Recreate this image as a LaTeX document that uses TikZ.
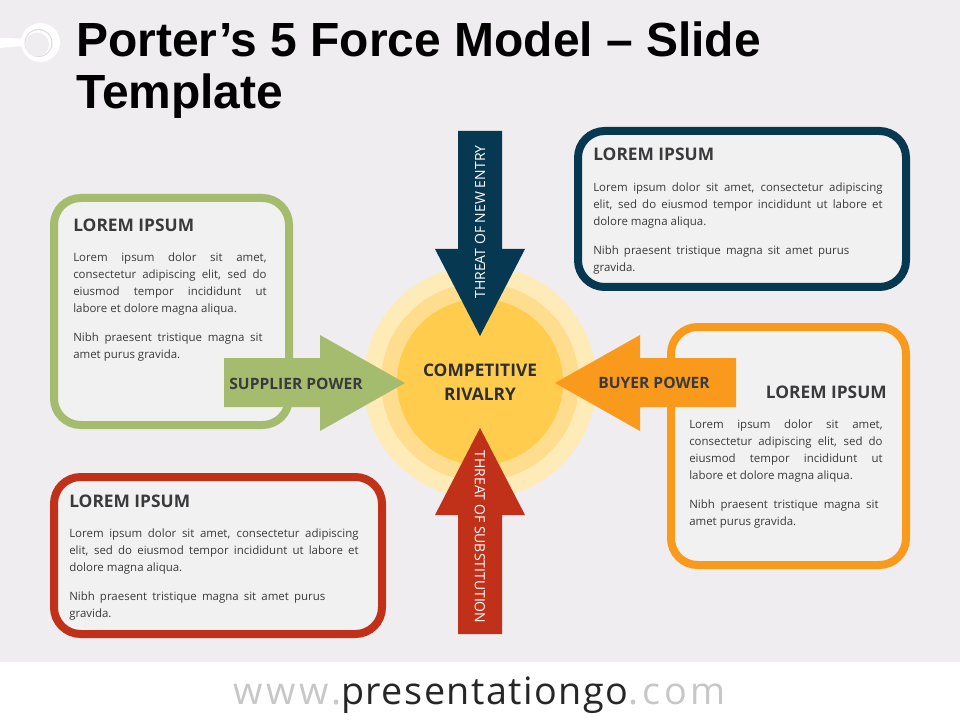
\documentclass[tikz,border=0pt]{standalone}
\usepackage{fontspec}
\setmainfont{Open Sans}
\newfontfamily\titlefont{Liberation Sans}
\newfontfamily\urlfont[LetterSpace=4]{Open Sans}
\newfontfamily\urlwide[LetterSpace=10]{Open Sans}
\usetikzlibrary{positioning}
\definecolor{navy}{HTML}{063951}
\definecolor{leaf}{HTML}{A5BC6E}
\definecolor{brick}{HTML}{C13018}
\definecolor{amber}{HTML}{F99A1C}
\definecolor{ink}{HTML}{3A3A3C}
\definecolor{paper}{HTML}{F2F1F2}
\definecolor{wash}{HTML}{EFEDEF}
\definecolor{sunout}{HTML}{FFEBB8}
\definecolor{sunmid}{HTML}{FFDD8E}
\definecolor{suncore}{HTML}{FFCC4D}
\newcommand\bodyfont{\fontsize{8.6}{12.75}\selectfont\hyphenpenalty=10000\relax}
\newcommand\widetext{Lorem ipsum dolor sit amet, consectetur adipiscing\linebreak elit, sed do eiusmod tempor incididunt ut labore et\linebreak dolore magna aliqua.\\[8.75pt] \makebox[192pt][s]{Nibh praesent tristique magna sit amet purus}\\ gravida.}
\newcommand\narrowtext{Lorem ipsum dolor sit amet,\linebreak consectetur adipiscing elit, sed do\linebreak eiusmod tempor incididunt ut\linebreak labore et dolore magna aliqua.\\[8.75pt] \makebox[142pt][s]{Nibh praesent tristique magna sit}\\ amet purus gravida.}
\tikzset{
  x=0.75pt, y=-0.75pt,
  infobox/.style={draw, line width=6pt, rounded corners=20pt, fill=paper, inner sep=0pt},
  boxhead/.style={inner sep=0pt, anchor=base west, text=ink, font=\fontsize{13}{15}\selectfont\bfseries},
  boxtext/.style={inner sep=0pt, anchor=north west, text=ink, align=justify, font=\bodyfont},
  forcelabel/.style={inner sep=0pt, font=\fontsize{10.5}{12}\selectfont},
  powerlabel/.style={inner sep=0pt, text=ink, font=\fontsize{11.7}{13}\selectfont\bfseries},
}
\begin{document}
\begin{tikzpicture}
\useasboundingbox (0,0) rectangle (960,720);
\fill[wash] (0,0) rectangle (960,662);

% pin
\fill[white] (0,38) -- (24,38.5) -- (24,46) -- (0,48) -- cycle;
\fill[white] (40.5,42.5) circle (19.5);
\fill[black!14] (38.5,43) circle (14);
\fill[white] (38.5,43) circle (13);
\fill[wash] (37,44.5) circle (12);

\node[inner sep=0pt, anchor=base west, font=\titlefont\fontsize{35.95}{39}\selectfont\bfseries] (title1) at (76,57) {Porter’s 5 Force Model – Slide};
\node[inner sep=0pt, anchor=base west, font=\titlefont\fontsize{35.95}{39}\selectfont\bfseries] (title2) at (76,109) {Template};

% circles
\fill[sunout] (480,382) circle (116.5);
\fill[sunmid] (480,382) circle (99);
\fill[suncore] (480,382) circle (83);

\node[infobox, draw=navy, minimum width=246pt, minimum height=117pt] (navybox) at (742,209) {};
\node[infobox, draw=leaf, minimum width=176.25pt, minimum height=170.25pt] (leafbox) at (171.5,311.5) {};
\node[infobox, draw=brick, minimum width=246pt, minimum height=117.75pt] (brickbox) at (218,555.5) {};
\node[infobox, draw=amber, minimum width=176.25pt, minimum height=178.5pt] (amberbox) at (788.5,446) {};

% arrows
\fill[navy] (458,131) -- (502,131) -- (502,249) -- (525,249) -- (480,336) -- (435,249) -- (458,249) -- cycle;
\fill[brick] (458,634) -- (502,634) -- (502,515) -- (525,515) -- (480,428) -- (435,515) -- (458,515) -- cycle;
\fill[leaf] (224,358) -- (320,358) -- (320,335) -- (405,383) -- (320,431) -- (320,407) -- (224,407) -- cycle;
\fill[amber] (736,358) -- (640,358) -- (640,335) -- (555,383) -- (640,431) -- (640,407) -- (736,407) -- cycle;

\node[forcelabel, text=white, rotate=90] (entry) at (480,222) {THREAT OF NEW ENTRY};
\node[forcelabel, text=white, rotate=-90] (subst) at (480,537) {THREAT OF SUBSTITUTION};
\node[powerlabel] (supplier) at (296,384) {SUPPLIER POWER};
\node[powerlabel] (buyer) at (654,383) {BUYER POWER};
\node[inner sep=0pt, align=center, text=ink!80!black, font=\fontsize{13}{18}\selectfont\bfseries] (rivalry) at (480,382) {COMPETITIVE\\RIVALRY};

% box texts
\node[boxhead] (navyhead) at (593,161) {LOREM IPSUM};
\node[boxtext, text width=217pt] (navytext) at (593,183) {\widetext};

\node[boxhead] (leafhead) at (73,232) {LOREM IPSUM};
\node[boxtext, text width=145pt] (leaftext) at (73,253) {\narrowtext};

\node[boxhead] (brickhead) at (69,507) {LOREM IPSUM};
\node[boxtext, text width=217pt] (bricktext) at (69,529) {\widetext};

\node[boxhead, anchor=base east] (amberhead) at (887,398) {LOREM IPSUM};
\node[boxtext, text width=145pt] (ambertext) at (689,420) {\narrowtext};

% footer
\node[inner sep=0pt, anchor=base west, font=\urlfont\fontsize{28.3}{30}\selectfont] (url) at (233,704) {\textcolor{black!22}{\urlwide www.}\textcolor{black!85}{presentationgo}\textcolor{black!22}{\urlwide .com}};
\end{tikzpicture}
\end{document}
